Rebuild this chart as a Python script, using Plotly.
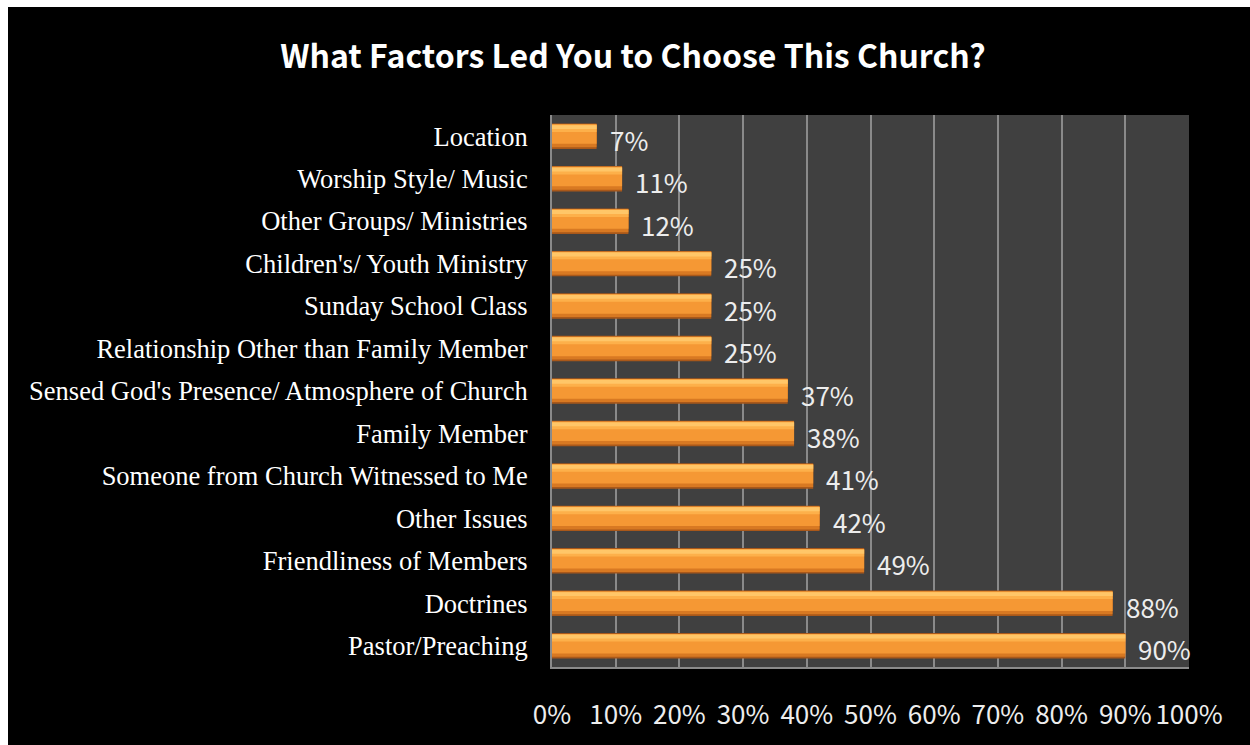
import plotly.graph_objects as go

# Survey results, listed top to bottom as displayed
factors = [
    "Location",
    "Worship Style/ Music",
    "Other Groups/ Ministries",
    "Children's/ Youth Ministry",
    "Sunday School Class",
    "Relationship Other than Family Member",
    "Sensed God's Presence/ Atmosphere of Church",
    "Family Member",
    "Someone from Church Witnessed to Me",
    "Other Issues",
    "Friendliness of Members",
    "Doctrines",
    "Pastor/Preaching",
]
percent = [7, 11, 12, 25, 25, 25, 37, 38, 41, 42, 49, 88, 90]
tick_values = [0, 10, 20, 30, 40, 50, 60, 70, 80, 90, 100]
tick_labels = [f"{v}%" for v in tick_values]

# plot bottom-up so the first factor sits at the top
cats = factors[::-1]
vals = percent[::-1]

fig = go.Figure()

# layered bars give the bevelled, glossy look
layers = [
    # (offset, width, color)
    (-0.30, 0.60, "#A9581A"),
    (-0.26, 0.54, "#D87922"),
    (-0.18, 0.46, "#F59834"),
    (0.10, 0.17, "#FDB04A"),
    (0.17, 0.09, "#FFC668"),
]
for off, w, col in layers:
    fig.add_trace(go.Bar(
        y=cats, x=vals, orientation="h",
        offset=off, width=w,
        marker=dict(color=col, line=dict(width=0)),
        hoverinfo="skip",
        showlegend=False,
    ))

# value labels just past the end of each bar
for c, v in zip(cats, vals):
    fig.add_annotation(
        x=v, y=c, xref="x", yref="y",
        text=f"{v}%", showarrow=False,
        xanchor="left", yanchor="middle",
        xshift=11, yshift=-3,
        font=dict(family="Noto Sans CJK KR", size=26, color="#EDEDED"),
    )

W, H = 1250, 745
L, R, T, B = 552, 61, 115, 78
pw, ph = W - L - R, H - T - B

def px_x(p):
    return (p - L) / pw

def px_y(p):
    return (H - B - p) / ph

# thin white frame strips along the top and left edges of the page
fig.add_shape(type="rect", xref="paper", yref="paper",
              x0=px_x(0), x1=px_x(W), y0=px_y(7), y1=px_y(0),
              fillcolor="white", line=dict(width=0), layer="above")
fig.add_shape(type="rect", xref="paper", yref="paper",
              x0=px_x(0), x1=px_x(8), y0=px_y(H), y1=px_y(0),
              fillcolor="white", line=dict(width=0), layer="above")

fig.update_layout(
    width=W, height=H,
    margin=dict(l=L, r=R, t=T, b=B, pad=0),
    paper_bgcolor="black",
    plot_bgcolor="#404040",
    barmode="overlay",
    title=dict(
        text="<b>What Factors Led You to Choose This Church?</b>",
        x=633 / W, xanchor="center",
        y=1 - 57 / H, yanchor="middle",
        font=dict(family="Noto Sans CJK KR", size=32, color="white"),
    ),
    xaxis=dict(
        range=[0, 100],
        tickvals=tick_values, ticktext=tick_labels,
        showgrid=True, gridcolor="#8A8A8A", gridwidth=2,
        zeroline=False,
        showline=True, linecolor="#8A8A8A", linewidth=2,
        ticks="", ticklabelstandoff=24,
        tickfont=dict(family="Noto Sans CJK KR", size=26, color="#EDEDED"),
        fixedrange=True,
    ),
    yaxis=dict(
        categoryorder="array", categoryarray=cats,
        range=[-0.5, len(cats) - 0.5],
        showgrid=False, zeroline=False,
        showline=True, linecolor="#8A8A8A", linewidth=2,
        ticks="", ticklabelstandoff=17,
        tickfont=dict(family="Liberation Serif", size=26.5, color="white"),
        fixedrange=True,
    ),
)

fig.write_html("out.html")
